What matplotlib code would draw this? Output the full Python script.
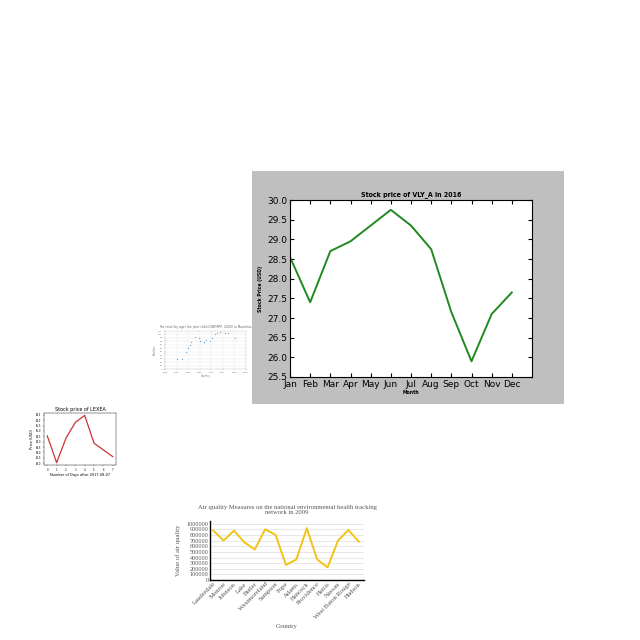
import matplotlib
matplotlib.use("Agg")
import matplotlib.pyplot as plt

# ---- Data ----
months = ["Jan", "Feb", "Mar", "Apr", "May", "Jun", "Jul", "Aug", "Sep", "Oct", "Nov", "Dec"]
vly_prices = [28.55, 27.4, 28.7, 28.95, 29.35, 29.75, 29.35, 28.75, 27.15, 25.9, 27.1, 27.65]
vly_yticks = [25.5, 26.0, 26.5, 27.0, 27.5, 28.0, 28.5, 29.0, 29.5, 30.0]

scatter_years = [1995.3, 1997.2, 1999.1, 2000.1, 2000.6, 2001.1, 2002.9, 2004.8, 2005.1, 2007.0,
                 2007.7, 2009.5, 2010.2, 2011.6, 2012.6, 2013.8, 2015.9, 2017.4, 2020.3]
scatter_vals = [28.5, 28.5, 48, 61, 69, 79, 92, 90, 81, 79, 83.5, 81, 90, 102, 104, 106, 104, 104, 90]
scatter_xticks = [1990, 1995, 2000, 2005, 2010, 2015, 2020, 2025]
scatter_yticks = [0, 10, 20, 30, 40, 50, 60, 70, 80, 90, 100, 110]

lexea_days = [0, 1, 2, 3, 4, 5, 6, 7]
lexea_prices = [64.54, 62.06, 64.33, 65.79, 66.44, 63.86, 63.24, 62.62]
lexea_yticks = [62.0, 62.5, 63.0, 63.5, 64.0, 64.5, 65.0, 65.5, 66.0, 66.5]

countries = ["Lauderdale", "Monroe", "Johnson", "Lake", "Butler", "Westmoreland", "Sampson",
             "Pope", "Adams", "Hancock", "Providence", "Harris", "Nassau", "West Baton Rouge", "Hudson"]
air_values = [884000, 701000, 878000, 671000, 543000, 902000, 805000, 268000, 366000, 921000,
              366000, 226000, 701000, 890000, 683000]
air_yticks = [0, 100000, 200000, 300000, 400000, 500000, 600000, 700000, 800000, 900000, 1000000]

W = H = 640.0
fig = plt.figure(figsize=(6.4, 6.4), dpi=100)
fig.patch.set_facecolor("white")

def fr(x0, y0, x1, y1):
    return [x0 / W, 1 - y1 / H, (x1 - x0) / W, (y1 - y0) / H]

# ---- Main chart gray background ----
bg = fig.add_axes(fr(252, 171, 564, 404))
bg.set_facecolor("#bfbfbf")
bg.set_xticks([])
bg.set_yticks([])
for s in bg.spines.values():
    s.set_visible(False)

ax = fig.add_axes(fr(290, 200, 532, 377))
ax.plot(range(len(months)), vly_prices, color="#1f8a1f", lw=1.4)
ax.set_xlim(0, 12)
ax.set_ylim(25.5, 30.0)
ax.set_xticks(range(len(months)))
ax.set_xticklabels(months)
ax.set_yticks(vly_yticks)
ax.set_yticklabels([f"{v:.1f}" for v in vly_yticks])
ax.tick_params(direction="in", labelsize=6.5, length=3, pad=2, top=True, right=True)
for s in ax.spines.values():
    s.set_linewidth(0.8)
ax.set_title("Stock price of VLY_A in 2016", fontsize=5.0, fontweight="heavy",
             fontstretch="condensed", pad=3)
ax.set_xlabel("Month", fontsize=3.3, fontweight="bold", labelpad=1)
ax.set_ylabel("Stock Price (USD)", fontsize=3.3, fontweight="bold", labelpad=3)

# ---- Small scatter chart ----
ax2 = fig.add_axes(fr(165, 331, 246, 369))
ax2.scatter(scatter_years, scatter_vals, s=0.8, color="#6aa2dc", zorder=3, linewidths=0)
ax2.set_xlim(1990, 2025)
ax2.set_ylim(0, 110)
ax2.set_xticks(scatter_xticks)
ax2.set_yticks(scatter_yticks)
ax2.tick_params(labelsize=1.6, length=1, width=0.3, pad=1, colors="#777777")
ax2.grid(True, color="#e6e6e6", lw=0.3)
for s in ax2.spines.values():
    s.set_linewidth(0.3)
    s.set_color("#cccccc")
ax2.set_title("The ratio (by age) the joint child (GNP/PPP, 2000) in Mauritius",
              fontsize=2.2, color="#666666", pad=2)
ax2.set_xlabel("Country", fontsize=1.8, color="#777777", labelpad=1)
ax2.set_ylabel("Number", fontsize=1.8, color="#777777", labelpad=1)

# ---- Red LEXEA chart ----
ax3 = fig.add_axes(fr(44, 413, 116, 465))
ax3.plot(lexea_days, lexea_prices, color="#cc3333", lw=0.9)
ax3.set_xticks(lexea_days)
ax3.set_yticks(lexea_yticks)
ax3.set_yticklabels([f"{v:.1f}" for v in lexea_yticks])
ax3.tick_params(labelsize=1.8, length=1, width=0.3, pad=1)
for s in ax3.spines.values():
    s.set_linewidth(0.3)
ax3.set_title("Stock price of LEXEA", fontsize=3.5, pad=1.2)
ax3.set_xlabel("Number of Days after 2017-08-07", fontsize=2.5, labelpad=1)
ax3.set_ylabel("Price (USD)", fontsize=2.5, labelpad=1)

# ---- Air quality chart ----
ax4 = fig.add_axes(fr(210, 521, 364, 580))
x4 = list(range(len(countries)))
ax4.plot(x4, air_values, color="#f2c319", lw=1.4, zorder=3)
ax4.set_xlim(-0.3, 14.5)
ax4.set_ylim(0, 1050000)
ax4.set_yticks(air_yticks)
ax4.set_yticklabels([str(v) for v in air_yticks])
ax4.set_xticks(x4)
ax4.set_xticklabels(countries, rotation=45, ha="right", rotation_mode="anchor")
ax4.grid(True, axis="y", color="#dddddd", lw=0.5)
ax4.set_axisbelow(True)
for t in ax4.get_xticklabels() + ax4.get_yticklabels():
    t.set_family("Liberation Serif")
    t.set_color("#555555")
ax4.tick_params(axis="y", labelsize=4.5, length=0, pad=1)
ax4.tick_params(axis="x", labelsize=4.8, length=0, pad=1)
ax4.spines["top"].set_visible(False)
ax4.spines["right"].set_visible(False)
ax4.spines["left"].set_linewidth(1.0)
ax4.spines["bottom"].set_linewidth(1.0)
ax4.set_title("Air quality Measures on the national environmental health tracking\nnetwork in 2009",
              fontsize=4.8, family="Liberation Serif", color="#555555", pad=5, linespacing=1.1)
ax4.set_xlabel("Country", fontsize=4.8, family="Liberation Serif", color="#555555", labelpad=3)
ax4.set_ylabel("Value of air quality", fontsize=4.8, family="Liberation Serif", color="#555555", labelpad=4)

fig.savefig("out.png", dpi=100, facecolor="white")
